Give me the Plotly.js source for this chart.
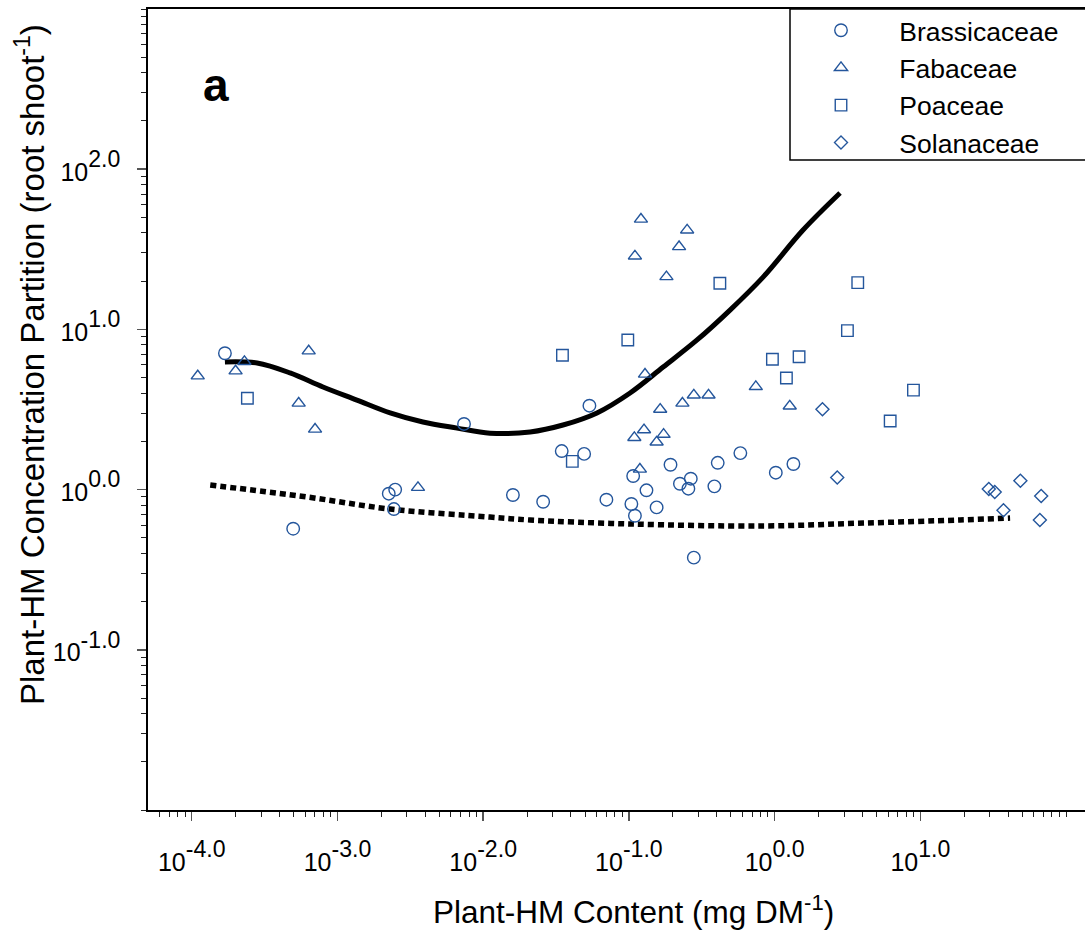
<!DOCTYPE html>
<html>
<head>
<meta charset="utf-8">
<script src="https://cdn.plot.ly/plotly-3.0.1.min.js"></script>
<style>
html,body{margin:0;padding:0;background:#fff;overflow:hidden;}
#chart{width:1085px;height:930px;}
</style>
</head>
<body>
<div id="chart"></div>
<script>
// ---- data ----
const brassicaceaeX = [1.69e-4, 0.00739, 0.00225, 0.00249, 0.00244, 0.000497, 0.0536, 0.0346, 0.0493, 0.582, 0.407, 0.193, 0.107, 1.346, 1.019, 0.266, 0.224, 0.256, 0.386, 0.132, 0.0258, 0.0701, 0.104, 0.155, 0.110, 0.279, 0.0160];
const brassicaceaeY = [7.10, 2.57, 0.943, 1.00, 0.756, 0.570, 3.34, 1.74, 1.67, 1.69, 1.47, 1.43, 1.216, 1.445, 1.275, 1.17, 1.088, 1.013, 1.048, 0.99, 0.840, 0.865, 0.813, 0.775, 0.687, 0.376, 0.925];

const fabaceaeX = [1.10e-4, 2.00e-4, 2.30e-4, 6.35e-4, 5.42e-4, 7.02e-4, 0.00357, 0.121, 0.251, 0.221, 0.110, 0.181, 0.129, 0.743, 0.279, 0.352, 0.233, 0.164, 1.27, 0.127, 0.109, 0.173, 0.155, 0.119];
const fabaceaeY = [5.12, 5.50, 6.29, 7.33, 3.46, 2.38, 1.03, 48.7, 41.7, 32.8, 28.7, 21.3, 5.25, 4.39, 3.89, 3.89, 3.46, 3.17, 3.32, 2.36, 2.11, 2.21, 1.98, 1.34];

const poaceaeX = [2.41e-4, 0.421, 3.72, 3.16, 0.0983, 0.0350, 0.966, 1.472, 1.205, 8.97, 6.21, 0.0409];
const poaceaeY = [3.72, 19.4, 19.6, 9.82, 8.59, 6.89, 6.51, 6.75, 4.97, 4.18, 2.68, 1.50];

const solanaceaeX = [2.13, 2.69, 29.5, 32.4, 48.6, 67.5, 37.2, 66.1];
const solanaceaeY = [3.17, 1.19, 1.01, 0.966, 1.137, 0.912, 0.743, 0.646];

// fitted curves
const solidCurveX = [1.69e-4, 2.81e-4, 4.73e-4, 7.96e-4, 1.36e-3, 2.30e-3, 3.86e-3, 6.62e-3, 0.01114, 0.0210, 0.0353, 0.0604, 0.1019, 0.1718, 0.2938, 0.4943, 0.8337, 1.567, 2.812];
const solidCurveY = [6.27, 6.17, 5.35, 4.37, 3.62, 3.01, 2.64, 2.42, 2.25, 2.29, 2.53, 3.01, 4.01, 5.82, 8.59, 13.2, 21.2, 41.7, 71.0];

const dottedCurveX = [1.34e-4, 6.19e-4, 2.30e-3, 0.01114, 0.0210, 0.1019, 0.834, 4.05, 18.7, 41.3];
const dottedCurveY = [1.068, 0.899, 0.756, 0.674, 0.646, 0.610, 0.593, 0.618, 0.646, 0.664];

const xTickVals = [1e-4, 1e-3, 1e-2, 1e-1, 1, 10];
const xTickExp = ['-4.0', '-3.0', '-2.0', '-1.0', '0.0', '1.0'];
const yTickVals = [0.1, 1, 10, 100];
const yTickExp = ['-1.0', '0.0', '1.0', '2.0'];

const seriesNames = ['Brassicaceae', 'Fabaceae', 'Poaceae', 'Solanaceae'];

// ---- styling ----
const blue = '#24569c';
const font = 'Liberation Sans, Arial, sans-serif';
// base "10" at 25px, exponent at 70% of 33px (~23px)
const tickLabel = e => '<span style="font-size:25px">10</span><sup>' + e + '</sup>';

function pts(name, x, y, symbol, size) {
  return {
    type: 'scatter', mode: 'markers', name: '\u00a0' + name,
    x: x, y: y,
    marker: {symbol: symbol, size: size, color: blue, line: {color: blue, width: 1.4}},
    cliponaxis: false
  };
}

const traces = [
  {type: 'scatter', mode: 'lines', x: solidCurveX, y: solidCurveY, showlegend: false,
   line: {color: '#000', width: 5, shape: 'spline', smoothing: 1}},
  {type: 'scatter', mode: 'lines', x: dottedCurveX, y: dottedCurveY, showlegend: false,
   line: {color: '#000', width: 5.5, dash: '6px,4px', shape: 'spline', smoothing: 1}},
  pts(seriesNames[0], brassicaceaeX, brassicaceaeY, 'circle-open', 12.5),
  pts(seriesNames[1], fabaceaeX, fabaceaeY, 'triangle-up-open', 11.5),
  pts(seriesNames[2], poaceaeX, poaceaeY, 'square-open', 11.5),
  pts(seriesNames[3], solanaceaeX, solanaceaeY, 'diamond-open', 10)
];

const plotW = 937, plotH = 801;

const layout = {
  width: 1085, height: 930,
  margin: {l: 148, r: 0, t: 9, b: 120, pad: 0, autoexpand: false},
  paper_bgcolor: '#fff', plot_bgcolor: '#fff',
  font: {family: font, color: '#000', size: 25},
  showlegend: true,
  legend: {
    x: (790 - 148) / plotW, y: 1 + 2.5 / plotH, xanchor: 'left', yanchor: 'top',
    bgcolor: 'rgba(0,0,0,0)', borderwidth: 0,
    font: {family: font, size: 26.5, color: '#000'},
    itemwidth: 92, tracegroupgap: 0
  },
  shapes: [
    {type: 'rect', xref: 'paper', yref: 'paper', layer: 'above',
     x0: (790 - 148) / plotW, x1: 1.1, y0: (810 - 160) / plotH, y1: 1,
     line: {color: '#000', width: 1.5}, fillcolor: '#fff'}
  ],
  xaxis: {
    type: 'log', range: [-4.30, 2.13], autorange: false,
    tickmode: 'array', tickvals: xTickVals, ticktext: xTickExp.map(tickLabel),
    ticks: 'outside', ticklen: 9, tickwidth: 1.5, tickcolor: '#555',
    ticklabelstandoff: 10,
    minor: {ticks: 'outside', ticklen: 5, tickwidth: 1, tickcolor: '#222', dtick: 'D1', showgrid: false},
    showline: true, linewidth: 2, linecolor: '#000', mirror: true,
    showgrid: false, zeroline: false,
    tickfont: {family: font, size: 33}
  },
  yaxis: {
    type: 'log', range: [-2, 3], autorange: false,
    tickmode: 'array', tickvals: yTickVals, ticktext: yTickExp.map(tickLabel),
    ticks: 'outside', ticklen: 9, tickwidth: 1.5, tickcolor: '#555',
    ticklabelstandoff: 10,
    minor: {ticks: 'outside', ticklen: 5, tickwidth: 1, tickcolor: '#222', dtick: 'D1', showgrid: false},
    showline: true, linewidth: 2, linecolor: '#000', mirror: false,
    showgrid: false, zeroline: false,
    tickfont: {family: font, size: 33}
  },
  annotations: [
    {text: '<b>a</b>', xref: 'paper', yref: 'paper', x: (216 - 148) / plotW, y: (810 - 85) / plotH,
     xanchor: 'center', yanchor: 'middle', showarrow: false, font: {family: font, size: 46, color: '#000'}},
    {text: 'Plant-HM Content (mg DM<sup>-1</sup>)', xref: 'paper', yref: 'paper',
     x: (633 - 148) / plotW, y: (810 - 910) / plotH, xanchor: 'center', yanchor: 'middle', showarrow: false,
     font: {family: font, size: 31.5, color: '#000'}},
    {text: 'Plant-HM Concentration Partition (root shoot<sup>-1</sup>)', xref: 'paper', yref: 'paper',
     x: (30 - 148) / plotW, y: (810 - 365) / plotH, xanchor: 'center', yanchor: 'middle', textangle: -90, showarrow: false,
     font: {family: font, size: 33, color: '#000'}}
  ]
};

Plotly.newPlot('chart', traces, layout, {displayModeBar: false, staticPlot: true});
</script>
</body>
</html>
